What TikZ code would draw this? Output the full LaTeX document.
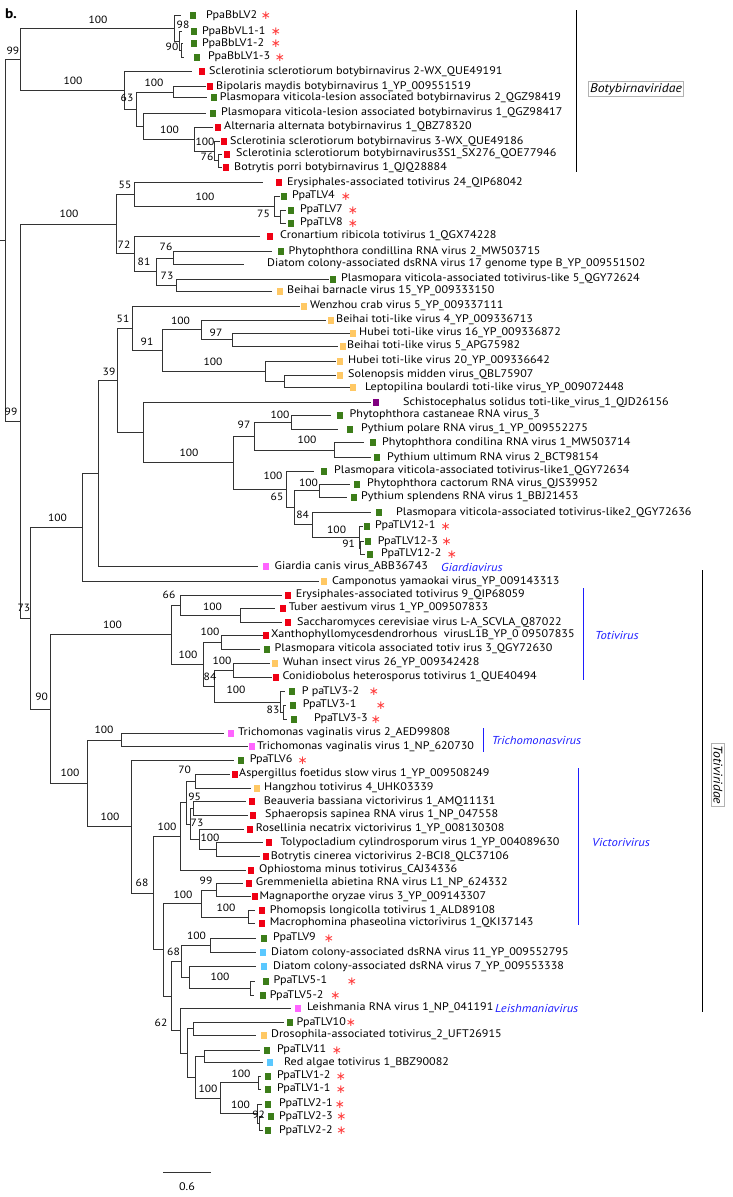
\documentclass[tikz,border=0pt]{standalone}
\usepackage{fontspec}
\setmainfont{PT Sans}[FakeStretch=1.1]
\newfontfamily\djv{DejaVu Sans}
\usetikzlibrary{calc}
\definecolor{cgreen}{RGB}{60,125,25}
\definecolor{cred}{RGB}{240,0,20}
\definecolor{corange}{RGB}{255,200,100}
\definecolor{cpink}{RGB}{255,100,255}
\definecolor{cpurple}{RGB}{128,0,128}
\definecolor{clblue}{RGB}{90,200,255}
\definecolor{cstar}{RGB}{255,60,60}
\definecolor{cblue}{RGB}{30,30,255}
\newcommand\lf[7]{\coordinate (#1) at (#3,#2);
  \node[sq,fill=#6] (#1-s) at (#4,#2) {};
  \node[lf] (#1-t) at (#5,#2) {#7};}
\newcommand\st[3]{\node[stn] (#1-st) at (#3,#2+4) {∗};}
\newcommand\nd[4]{\path let \p1=(#3),\p2=(#4) in coordinate (#1) at (#2pt,{0.5*\y1+0.5*\y2});
  \draw[br] (#1) |- (#3); \draw[br] (#1) |- (#4);}
\newcommand\bs[4]{\node[bsn] (#1) at (#2,#3) {#4};}
\begin{document}
\begin{tikzpicture}[x=1pt,y=-1pt,
  br/.style={draw=black!80,line width=0.8pt},
  sq/.style={rectangle,inner sep=0pt,minimum width=6pt,minimum height=7pt,draw=none},
  lf/.style={anchor=mid west,inner sep=0pt,font=\fontsize{11}{13}\selectfont},
  bsn/.style={inner sep=0pt,font=\fontsize{10.5}{12}\selectfont},
  stn/.style={inner sep=0pt,anchor=base,text=cstar,font=\djv\fontsize{12}{12}\selectfont},
  clade/.style={inner sep=0pt,anchor=west,text=cblue,font=\fontsize{11.5}{14}\selectfont\itshape},
  fam/.style={draw=gray!60,line width=1.2pt,inner sep=2pt,font=\fontsize{12.5}{14}\selectfont\itshape},
  bar/.style={line width=0.8pt}]
\useasboundingbox (0,0) rectangle (732,1197);
\node[inner sep=0pt,font=\fontsize{14}{14}\selectfont\bfseries] (blabel) at (11,14) {b.};
% ---------- leaves ----------
\lf{l1}{15.7}{181}{193}{206}{cgreen}{PpaBbLV2}
\lf{l2}{31.7}{182}{194}{202}{cgreen}{PpaBbVL1-1}
\lf{l3}{43.7}{183}{194}{202}{cgreen}{PpaBbLV1-2}
\lf{l4}{57.3}{184}{196.6}{208}{cgreen}{PpaBbLV1-3}
\lf{l5}{71.7}{192}{202}{209}{cred}{Sclerotinia sclerotiorum botybirnavirus 2-WX\_QUE49191}
\lf{l6}{86.7}{206}{210}{216}{cred}{Bipolaris maydis botybirnavirus 1\_YP\_009551519}
\lf{l7}{97.7}{207}{213.5}{219.6}{cgreen}{Plasmopara viticola-lesion associated botybirnavirus 2\_QGZ98419}
\lf{l8}{113.3}{206}{213}{221}{cgreen}{Plasmopara viticola-lesion associated botybirnavirus 1\_QGZ98417}
\lf{l9}{127.3}{213}{218}{224}{cred}{Alternaria alternata botybirnavirus 1\_QBZ78320}
\lf{l10}{141.7}{220}{224}{230}{cred}{Sclerotinia sclerotiorum botybirnavirus 3-WX\_QUE49186}
\lf{l11}{154}{222}{227}{236}{cred}{Sclerotinia sclerotiorum botybirnavirus3S1\_SX276\_QOE77946}
\lf{l12}{167.7}{222}{226}{234}{cred}{Botrytis porri botybirnavirus 1\_QJQ28884}
\lf{l13}{182.7}{263}{279}{287}{cred}{Erysiphales-associated totivirus 24\_QIP68042}
\lf{l14}{196}{280}{284}{292}{cgreen}{PpaTLV4}
\lf{l15}{210}{286}{291}{300}{cgreen}{PpaTLV7}
\lf{l16}{223.3}{286}{291}{300}{cgreen}{PpaTLV8}
\lf{l17}{236}{260}{270}{280}{cred}{Cronartium ribicola totivirus 1\_QGX74228}
\lf{l18}{251.7}{272}{280.5}{288.5}{cgreen}{Phytophthora condillina RNA virus 2\_MW503715}
\lf{l19}{264.3}{244}{262}{267}{none}{Diatom colony-associated dsRNA virus 17 genome type B\_YP\_009551502}
\lf{l20}{279.3}{328.5}{333}{341}{cgreen}{Plasmopara viticola-associated totivirus-like 5\_QGY72624}
\lf{l21}{291}{272}{280}{287}{corange}{Beihai barnacle virus 15\_YP\_009333150}
\lf{l22}{306}{300}{304}{310}{corange}{Wenzhou crab virus 5\_YP\_009337111}
\lf{l23}{320}{326}{331}{336}{corange}{Beihai toti-like virus 4\_YP\_009336713}
\lf{l24}{333.3}{350}{353}{359}{corange}{Hubei toti-like virus 16\_YP\_009336872}
\lf{l25}{346}{338}{342.5}{347}{corange}{Beihai toti-like virus 5\_APG75982}
\lf{l26}{361}{335.5}{340}{348}{corange}{Hubei toti-like virus 20\_YP\_009336642}
\lf{l27}{375}{335.5}{340}{348}{corange}{Solenopsis midden virus\_QBL75907}
\lf{l28}{387.7}{349.5}{353}{365}{corange}{Leptopilina boulardi toti-like virus\_YP\_009072448}
\lf{l29}{402.7}{370.6}{375.5}{403}{cpurple}{Schistocephalus solidus toti-like\_virus\_1\_QJD26156}
\lf{l30}{415}{331}{340}{349.5}{cgreen}{Phytophthora castaneae RNA virus\_3}
\lf{l31}{429.3}{338}{349.5}{361}{cgreen}{Pythium polare RNA virus\_1\_YP\_009552275}
\lf{l32}{442.7}{363.6}{373}{382}{cgreen}{Phytophthora condilina RNA virus 1\_MW503714}
\lf{l33}{457.7}{370.6}{377}{387}{cgreen}{Pythium ultimum RNA virus 2\_BCT98154}
\lf{l34}{471}{314}{324}{334}{cgreen}{Plasmopara viticola-associated totivirus-like1\_QGY72634}
\lf{l35}{484}{349.5}{356.5}{367}{cgreen}{Phytophthora cactorum RNA virus\_QJS39952}
\lf{l36}{497.3}{347}{354}{361}{cgreen}{Pythium splendens RNA virus 1\_BBJ21453}
\lf{l37}{512.7}{370.6}{379}{396}{cgreen}{Plasmopara viticola-associated totivirus-like2\_QGY72636}
\lf{l38}{526}{363}{367}{375}{cgreen}{PpaTLV12-1}
\lf{l39}{541.7}{364}{368}{377.6}{cgreen}{PpaTLV12-3}
\lf{l40}{554.3}{365}{369.6}{381}{cgreen}{PpaTLV12-2}
\lf{l41}{566.7}{258}{266.4}{274.5}{cpink}{Giardia canis virus\_ABB36743}
\lf{l42}{581.7}{319}{323.6}{332}{corange}{Camponotus yamaokai virus\_YP\_009143313}
\lf{l43}{595}{281.5}{287.6}{295.6}{cred}{Erysiphales-associated totivirus 9\_QIP68059}
\lf{l44}{608.3}{274.5}{283}{288.6}{cred}{Tuber aestivum virus 1\_YP\_009507833}
\lf{l45}{622.7}{281.5}{287.6}{297}{cred}{Saccharomyces cerevisiae virus L-A\_SCVLA\_Q87022}
\lf{l46}{635}{263}{266}{271}{cred}{Xanthophyllomycesdendrorhous\ \ virusL1B\_YP\_0 09507835}
\lf{l47}{649.3}{260}{266.5}{274.5}{cgreen}{Plasmopara viticola associated totiv irus 3\_QGY72630}
\lf{l48}{663.3}{270}{274.5}{283}{corange}{Wuhan insect virus 26\_YP\_009342428}
\lf{l49}{677.3}{272}{276}{282.5}{cred}{Conidiobolus heterosporus totivirus 1\_QUE40494}
\lf{l50}{691.7}{285}{292}{301.7}{cgreen}{P paTLV3-2}
\lf{l51}{705}{286}{293}{302.6}{cgreen}{PpaTLV3-1}
\lf{l52}{719.3}{287}{294}{314}{cgreen}{PpaTLV3-3}
\lf{l53}{733.3}{224}{231}{238}{cpink}{Trichomonas vaginalis virus 2\_AED99808}
\lf{l54}{746.7}{247.7}{252}{257}{cpink}{Trichomonas vaginalis virus 1\_NP\_620730}
\lf{l55}{760}{233.6}{240.6}{249.6}{cgreen}{PpaTLV6}
\lf{l56}{774}{230}{234.5}{239}{cred}{Aspergillus foetidus slow virus 1\_YP\_009508249}
\lf{l57}{788.3}{251}{257}{264}{corange}{Hangzhou totivirus 4\_UHK03339}
\lf{l58}{801.7}{246}{252}{263.6}{cred}{Beauveria bassiana victorivirus 1\_AMQ11131}
\lf{l59}{815}{247.7}{253}{265}{cred}{Sphaeropsis sapinea RNA virus 1\_NP\_047558}
\lf{l60}{829.3}{244}{249.6}{255.7}{cred}{Rosellinia necatrix victorivirus 1\_YP\_008130308}
\lf{l61}{842.7}{262.7}{269}{280.5}{cred}{Tolypocladium cylindrosporum virus 1\_YP\_004089630}
\lf{l62}{856.7}{260}{265.5}{270.7}{cred}{Botrytis cinerea victorivirus 2-BCI8\_QLC37106}
\lf{l63}{870}{246}{251}{259}{cred}{Ophiostoma minus totivirus\_CAJ34336}
\lf{l64}{883.3}{243}{248.6}{255.7}{cred}{Gremmeniella abietina RNA virus L1\_NP\_624332}
\lf{l65}{896.7}{251}{254.7}{259.4}{cred}{Magnaporthe oryzae virus 3\_YP\_009143307}
\lf{l66}{910.7}{255}{261.7}{269.7}{cred}{Phomopsis longicolla totivirus 1\_ALD89108}
\lf{l67}{923.3}{255}{261.7}{269.7}{cred}{Macrophomina phaseolina victorivirus 1\_QKI37143}
\lf{l68}{938.3}{255.6}{264}{273}{cgreen}{PpaTLV9}
\lf{l69}{952.7}{255.6}{262.7}{271}{clblue}{Diatom colony-associated dsRNA virus 11\_YP\_009552795}
\lf{l70}{966.7}{255.6}{264}{273}{clblue}{Diatom colony-associated dsRNA virus 7\_YP\_009553338}
\lf{l71}{981}{255}{266}{273.5}{cgreen}{PpaTLV5-1}
\lf{l72}{995.7}{254}{262.7}{269.7}{cgreen}{PpaTLV5-2}
\lf{l73}{1008.3}{291}{298}{307}{cpink}{Leishmania RNA virus 1\_NP\_041191}
\lf{l74}{1022.7}{284}{289.5}{296.5}{cgreen}{PpaTLV10}
\lf{l75}{1035}{255.6}{263.6}{271}{corange}{Drosophila-associated totivirus\_2\_UFT26915}
\lf{l76}{1050}{260}{267.4}{276.8}{cgreen}{PpaTLV11}
\lf{l77}{1062.7}{262.7}{270}{283.8}{clblue}{Red algae totivirus 1\_BBZ90082}
\lf{l78}{1076}{261}{268}{276.8}{cgreen}{PpaTLV1-2}
\lf{l79}{1089.3}{261}{268}{276.8}{cgreen}{PpaTLV1-1}
\lf{l80}{1104}{262}{268}{279}{cgreen}{PpaTLV2-1}
\lf{l81}{1116.7}{263}{270.6}{279}{cgreen}{PpaTLV2-3}
\lf{l82}{1130.7}{263}{268}{279}{cgreen}{PpaTLV2-2}
% ---------- stars ----------
\st{l1}{15.7}{266} \st{l2}{31.7}{276} \st{l3}{43.7}{276} \st{l4}{57.3}{280}
\st{l14}{196}{346} \st{l15}{210}{353} \st{l16}{223.3}{353}
\st{l38}{526}{445.6} \st{l39}{541.7}{446.6} \st{l40}{554.3}{452}
\st{l50}{691.7}{374} \st{l51}{705}{381} \st{l52}{719.3}{376}
\st{l55}{760}{302.6} \st{l68}{938.3}{329} \st{l71}{981}{352} \st{l72}{995.7}{335.4}
\st{l74}{1022.7}{351} \st{l76}{1050}{336.8} \st{l78}{1076}{341} \st{l79}{1089.3}{341}
\st{l80}{1104}{340} \st{l81}{1116.7}{341.5} \st{l82}{1130.7}{341.5}
% ---------- internal nodes ----------
\nd{A1c}{181.6}{l3}{l4}
\nd{A1b}{179.7}{l2}{A1c}
\nd{A1}{174.5}{l1}{A1b}
\nd{A8}{218}{l11}{l12}
\nd{A7}{214}{l10}{A8}
\nd{A6}{194}{l9}{A7}
\nd{A5}{143}{l8}{A6}
\nd{A4}{173.6}{l6}{l7}
\nd{A3}{136}{A4}{A5}
\nd{A2}{124.3}{l5}{A3}
\nd{A}{20}{A1}{A2}
\nd{B1c}{280.5}{l15}{l16}
\nd{B1b}{274.6}{l14}{B1c}
\nd{B1}{134}{l13}{B1b}
\nd{B4}{173.6}{l18}{l19}
\nd{B5}{176}{l20}{l21}
\nd{B3}{156}{B4}{B5}
\nd{B2}{134}{l17}{B3}
\nd{B}{116}{B1}{B2}
\nd{E1e}{232}{l24}{l25}
\nd{E1c}{201}{l23}{E1e}
\nd{E1f}{284}{l27}{l28}
\nd{E1d}{265}{l26}{E1f}
\nd{E1b}{162}{E1c}{E1d}
\nd{E1}{132}{l22}{E1b}
\nd{E2e}{291}{l30}{l31}
\nd{E2f}{334.5}{l32}{l33}
\nd{E2c}{254.6}{E2e}{E2f}
\nd{E2h}{319}{l35}{l36}
\nd{E2k}{360.5}{l39}{l40}
\nd{E2j}{359}{l38}{E2k}
\nd{E2i}{312}{l37}{E2j}
\nd{E2g}{294}{E2h}{E2i}
\nd{E2d}{286}{l34}{E2g}
\nd{E2b}{233.6}{E2c}{E2d}
\nd{E2}{143}{l29}{E2b}
\nd{E}{117}{E1}{E2}
\nd{D}{98.5}{E}{l41}
\nd{F}{82}{D}{l42}
\nd{I1b}{240}{l44}{l45}
\nd{I1}{180.7}{l43}{I1b}
\nd{I3}{221.5}{l46}{l47}
\nd{I5}{233}{l48}{l49}
\nd{I7}{283}{l51}{l52}
\nd{I6}{280.6}{l50}{I7}
\nd{I4}{214.5}{I5}{I6}
\nd{I2}{203}{I3}{I4}
\nd{I}{171}{I1}{I2}
\nd{J1}{121}{l53}{l54}
\nd{V1a}{195}{l56}{l57}
\nd{V1c}{193.5}{l58}{l59}
\nd{V1e}{216.7}{l61}{l62}
\nd{V1d}{199}{l60}{V1e}
\nd{V1b}{190}{V1c}{V1d}
\nd{V1}{186}{V1a}{V1b}
\nd{V}{180}{V1}{l63}
\nd{K2a}{216}{l64}{l65}
\nd{K2b}{248.3}{l66}{l67}
\nd{K2}{201.7}{K2a}{K2b}
\nd{Y1}{210.7}{l68}{l69}
\nd{Y3}{250}{l71}{l72}
\nd{Y2}{189.3}{l70}{Y3}
\nd{Y}{181.7}{Y1}{Y2}
\nd{Z1a}{193.3}{l74}{l75}
\nd{Z1c}{204}{l76}{l77}
\nd{Z1e}{258}{l78}{l79}
\nd{Z1g}{259.5}{l81}{l82}
\nd{Z1f}{257}{l80}{Z1g}
\nd{Z1d}{220.5}{Z1e}{Z1f}
\nd{Z1b}{195}{Z1c}{Z1d}
\nd{Z1}{187}{Z1a}{Z1b}
\nd{Z}{180}{l73}{Z1}
\nd{X}{171.7}{Y}{Z}
\nd{W}{163.3}{K2}{X}
\nd{J3}{153}{V}{W}
\nd{J2}{131.7}{l55}{J3}
\nd{J}{87}{J1}{J2}
\nd{H}{50.7}{I}{J}
\nd{G}{30}{F}{H}
\nd{C}{20}{B}{G}
\nd{root}{5}{A}{C}
\path let \p1=(root) in coordinate (root0) at (0pt,\y1);
\draw[br] (root0) -- (root);
% ---------- bootstrap values ----------
\bs{b1}{13}{51}{99}
\bs{b2}{98}{20}{100}
\bs{b3}{183}{25}{98}
\bs{b4}{172}{47}{90}
\bs{b5}{73}{81}{100}
\bs{b6}{127}{98}{63}
\bs{b7}{154}{83}{100}
\bs{b8}{169.5}{130}{100}
\bs{b9}{205}{141.7}{100}
\bs{b10}{207}{156.7}{76}
\bs{b11}{125}{185}{55}
\bs{b12}{205}{196.7}{100}
\bs{b13}{69}{214}{100}
\bs{b14}{263.5}{214}{75}
\bs{b15}{124}{245}{72}
\bs{b16}{166}{246.7}{76}
\bs{b17}{144}{261.7}{81}
\bs{b18}{167}{276}{73}
\bs{b19}{123}{319}{51}
\bs{b20}{180.6}{320.7}{100}
\bs{b21}{216}{333}{97}
\bs{b22}{147}{341.7}{91}
\bs{b23}{213}{361.7}{100}
\bs{b24}{109}{371.7}{39}
\bs{b25}{11}{411.7}{99}
\bs{b26}{280}{415}{100}
\bs{b27}{244}{425}{97}
\bs{b28}{307}{440}{100}
\bs{b29}{189}{453}{100}
\bs{b30}{273}{476}{100}
\bs{b31}{308.5}{483}{100}
\bs{b32}{277}{496.7}{65}
\bs{b33}{302.6}{515}{84}
\bs{b34}{57.5}{518}{100}
\bs{b35}{336.6}{530}{100}
\bs{b36}{348.6}{544}{91}
\bs{b37}{169}{595}{66}
\bs{b38}{212.5}{606.7}{100}
\bs{b39}{24}{608}{73}
\bs{b40}{112.6}{625}{100}
\bs{b41}{210}{632.3}{100}
\bs{b42}{188}{655}{100}
\bs{b43}{222}{661}{100}
\bs{b44}{210}{676.7}{84}
\bs{b45}{236}{690}{100}
\bs{b46}{41.6}{697.3}{90}
\bs{b47}{273}{710}{83}
\bs{b48}{104}{730}{100}
\bs{b49}{70}{773.3}{100}
\bs{b50}{184.6}{770}{70}
\bs{b51}{194.7}{796.7}{95}
\bs{b52}{110}{816.7}{100}
\bs{b53}{197}{822.7}{73}
\bs{b54}{167}{826.7}{100}
\bs{b55}{210}{838.3}{100}
\bs{b56}{142}{883.3}{68}
\bs{b57}{206}{881}{99}
\bs{b58}{183}{895}{100}
\bs{b59}{226}{908.3}{100}
\bs{b60}{196.5}{936}{100}
\bs{b61}{173.5}{951.7}{68}
\bs{b62}{161}{1023}{62}
\bs{b63}{220}{977}{100}
\bs{b64}{241}{1074}{100}
\bs{b65}{208}{1089.3}{100}
\bs{b66}{240.5}{1105}{100}
\bs{b67}{258.7}{1115}{92}
% ---------- clade annotations ----------
\coordinate (botyT) at (576,10); \coordinate (botyB) at (576,172);
\draw[bar] (botyT) -- (botyB);
\node[fam] (boty) at (636,89) {Botybirnaviridae};
\coordinate (totT) at (702,570); \coordinate (totB) at (702,1012);
\draw[bar] (totT) -- (totB);
\node[fam,rotate=-90] (toti) at (718,775) {Totiviridae};
\node[clade] (giar) at (441,567) {Giardiavirus};
\coordinate (tvT) at (583,588); \coordinate (tvB) at (583,680);
\draw[bar,cblue] (tvT) -- (tvB);
\node[clade] (totv) at (595,635) {Totivirus};
\coordinate (trT) at (483,728); \coordinate (trB) at (483,752);
\draw[bar,cblue] (trT) -- (trB);
\node[clade] (trich) at (491.6,740) {Trichomonasvirus};
\coordinate (viT) at (578,768); \coordinate (viB) at (578,925);
\draw[bar,cblue] (viT) -- (viB);
\node[clade] (vict) at (592,842) {Victorivirus};
\node[clade] (leis) at (495,1008) {Leishmaniavirus};
% ---------- scale bar ----------
\coordinate (sbL) at (163,1172); \coordinate (sbR) at (211,1172);
\draw[br] (sbL) -- (sbR);
\node[bsn,font=\fontsize{11}{12}\selectfont] (sbt) at (187,1187) {0.6};
\end{tikzpicture}
\end{document}
